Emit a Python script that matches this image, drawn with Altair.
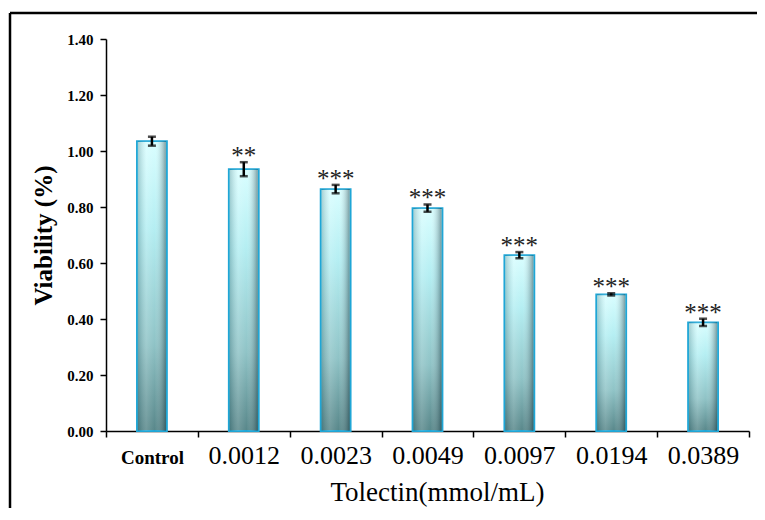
import altair as alt
import pandas as pd

categories = ["Control", "0.0012", "0.0023", "0.0049", "0.0097", "0.0194", "0.0389"]
means = [1.035, 0.935, 0.864, 0.796, 0.628, 0.488, 0.388]
sds = [0.016, 0.025, 0.015, 0.013, 0.011, 0.004, 0.013]
stars = ["", "**", "***", "***", "***", "***", "***"]
y_ticks = [0.0, 0.2, 0.4, 0.6, 0.8, 1.0, 1.2, 1.4]

df = pd.DataFrame({"cat": categories, "mean": means, "sd": sds, "star": stars})
df["lo"] = df["mean"] - df["sd"]
df["hi"] = df["mean"] + df["sd"]

SERIF = "Liberation Serif"
W, H = 643, 392

x_enc = alt.X(
    "cat:N", sort=categories, title="Tolectin(mmol/mL)",
    scale=alt.Scale(paddingInner=0, paddingOuter=0),
    axis=alt.Axis(
        labelAngle=0, tickBand="extent", tickSize=6, tickWidth=1.5, tickColor="black",
        domainColor="black", domainWidth=1.5,
        labelFont=SERIF, labelColor="black",
        labelFontSize={"condition": {"test": "datum.value == 'Control'", "value": 19}, "value": 26},
        labelFontWeight={"condition": {"test": "datum.value == 'Control'", "value": "bold"}, "value": "normal"},
        labelBaseline="alphabetic", labelPadding=26,
        titleFont=SERIF, titleFontSize=27, titleFontWeight="normal", titleColor="black",
        titleX=331, titleY=69, titleBaseline="alphabetic", titleAnchor="middle",
    ),
)

y_scale = alt.Scale(domain=[0, 1.4], nice=False)
y_axis = alt.Axis(
    values=y_ticks, format=".2f", grid=False, tickSize=6, tickWidth=1.5, tickColor="black",
    domainColor="black", domainWidth=1.5, labelFont=SERIF, labelFontWeight="bold",
    labelFontSize=15, labelColor="black", labelPadding=7,
    title="Viability (%)", titleFont=SERIF, titleFontSize=25, titleFontWeight="bold",
    titleColor="black", titleX=-63, titleY=196, titleBaseline="middle", titleAngle=-90,
)

base = alt.Chart(df)

vgrad = alt.Gradient(
    gradient="linear", x1=0, x2=0, y1=0, y2=1,
    stops=[
        alt.GradientStop(color="#d9feff", offset=0),
        alt.GradientStop(color="#b4eef2", offset=0.3),
        alt.GradientStop(color="#8fc3c6", offset=0.7),
        alt.GradientStop(color="#58878a", offset=1),
    ],
)
hgrad = alt.Gradient(
    gradient="linear", x1=0, x2=1, y1=0, y2=0,
    stops=[
        alt.GradientStop(color="rgba(20,70,80,0.25)", offset=0),
        alt.GradientStop(color="rgba(255,255,255,0.15)", offset=0.3),
        alt.GradientStop(color="rgba(255,255,255,0)", offset=0.6),
        alt.GradientStop(color="rgba(10,40,50,0.45)", offset=1),
    ],
)

bars = base.mark_bar(size=30, fill=vgrad, stroke="#1fa6d6", strokeWidth=1.8).encode(
    x=x_enc, y=alt.Y("mean:Q", scale=y_scale, axis=y_axis)
)
shade = base.mark_bar(size=28, fill=hgrad).encode(
    x=alt.X("cat:N", sort=categories), y=alt.Y("mean:Q")
)
err = base.mark_rule(color="black", strokeWidth=2.5).encode(
    x=alt.X("cat:N", sort=categories), y="lo:Q", y2="hi:Q"
)
cap_hi = base.mark_tick(color="black", size=8, thickness=2.5, orient="horizontal").encode(
    x=alt.X("cat:N", sort=categories), y="hi:Q"
)
cap_lo = base.mark_tick(color="black", size=8, thickness=2.5, orient="horizontal").encode(
    x=alt.X("cat:N", sort=categories), y="lo:Q"
)
star_txt = base.mark_text(font=SERIF, fontSize=25, color="#222222", baseline="alphabetic", dy=2).encode(
    x=alt.X("cat:N", sort=categories), y="hi:Q", text="star:N"
)

one = pd.DataFrame({"a": [0]})
frame_top = alt.Chart(one).mark_rule(color="black", strokeWidth=2.5).encode(
    x=alt.value(-96), x2=alt.value(800), y=alt.value(-26)
)
frame_left = alt.Chart(one).mark_rule(color="black", strokeWidth=2.5).encode(
    x=alt.value(-96), y=alt.value(-26), y2=alt.value(600)
)

chart = alt.layer(bars, shade, err, cap_hi, cap_lo, star_txt, frame_top, frame_left).properties(
    width=W, height=H,
    autosize=alt.AutoSizeParams(type="none"),
    padding={"left": 98, "top": 31, "right": 8, "bottom": 77},
    background="white",
).configure_view(strokeWidth=0, stroke=None)

chart.save("out.html", embed_options={"renderer": "svg", "actions": False})
